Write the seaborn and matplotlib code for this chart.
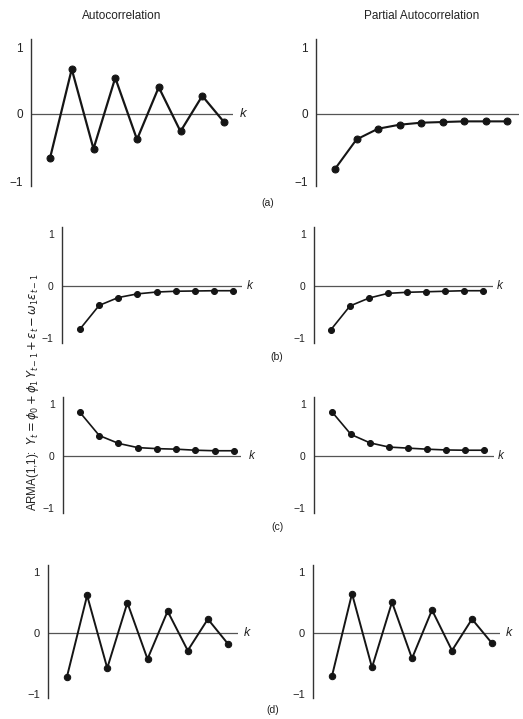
import matplotlib
matplotlib.use("Agg")
import matplotlib.pyplot as plt
import seaborn as sns
import pandas as pd

# ---------------- data ----------------
lags = [1, 2, 3, 4, 5, 6, 7, 8, 9]
acf_a = [-0.66, 0.67, -0.52, 0.54, -0.38, 0.40, -0.26, 0.27, -0.12]
pacf_a = [-0.82, -0.38, -0.22, -0.16, -0.13, -0.12, -0.11, -0.11, -0.11]
acf_b = [-0.82, -0.37, -0.22, -0.15, -0.115, -0.10, -0.095, -0.09, -0.09]
pacf_b = [-0.83, -0.38, -0.23, -0.14, -0.12, -0.11, -0.10, -0.09, -0.09]
acf_c = [0.83, 0.39, 0.24, 0.16, 0.14, 0.13, 0.11, 0.10, 0.10]
pacf_c = [0.84, 0.41, 0.25, 0.17, 0.15, 0.13, 0.115, 0.11, 0.11]
acf_d = [-0.72, 0.62, -0.58, 0.50, -0.43, 0.36, -0.29, 0.23, -0.18]
pacf_d = [-0.71, 0.65, -0.57, 0.51, -0.42, 0.38, -0.29, 0.23, -0.17]
col_titles = ["Autocorrelation", "Partial Autocorrelation"]
panel_labels = ["(a)", "(b)", "(c)", "(d)"]
ytick_vals = [-1, 0, 1]
ytick_labels = ["\u22121", "0", "1"]
side_label = (r"ARMA(1,1):  $Y_t = \phi_0 + \phi_1\, Y_{t-1} + \varepsilon_t - \omega_1 \varepsilon_{t-1}$")

sns.set_theme(style="white")
plt.rcParams["font.family"] = ["Liberation Sans", "DejaVu Sans"]
plt.rcParams["mathtext.fontset"] = "dejavusans"

W, H = 523, 719
fig = plt.figure(figsize=(W / 100, H / 100), dpi=100)
fig.patch.set_facecolor("white")

YTOP, YBOT = 1.12, -1.08
INK = "#151515"

# layout (pixels): axis_x, end_x, first_pt, last_pt, zero_y, unit, k_offset, line width, marker size, label size
panels = [
    (acf_a, dict(ax=31, end=233, f=50, l=224, z=114, u=67, k=10, lw=1.6, ms=5.0, fs=8.5)),
    (pacf_a, dict(ax=316, end=519, f=335, l=507, z=114, u=67, k=None, lw=1.5, ms=5.0, fs=8.5)),
    (acf_b, dict(ax=62, end=242, f=80, l=233, z=286, u=52.5, k=8, lw=1.2, ms=4.3, fs=7.5)),
    (pacf_b, dict(ax=314, end=493, f=331, l=483, z=286, u=52.5, k=7, lw=1.2, ms=4.3, fs=7.5)),
    (acf_c, dict(ax=63, end=241, f=80, l=234, z=456, u=52.5, k=11, lw=1.2, ms=4.3, fs=7.5)),
    (pacf_c, dict(ax=314, end=494, f=332, l=484, z=456, u=52.5, k=7, lw=1.2, ms=4.3, fs=7.5)),
    (acf_d, dict(ax=48, end=238, f=67, l=228, z=633, u=60.5, k=9, lw=1.4, ms=4.6, fs=8)),
    (pacf_d, dict(ax=313, end=500, f=332, l=492, z=633, u=60.5, k=9, lw=1.4, ms=4.6, fs=8)),
]

for vals, p in panels:
    sp = (p["l"] - p["f"]) / 8.0
    x0 = 1 - (p["f"] - p["ax"]) / sp
    x1 = 9 + (p["end"] - p["l"]) / sp
    top_px = p["z"] - YTOP * p["u"]
    bot_px = p["z"] - YBOT * p["u"]
    ax = fig.add_axes([p["ax"] / W, 1 - bot_px / H, (p["end"] - p["ax"]) / W, (bot_px - top_px) / H])
    ax.set_facecolor("none")
    df = pd.DataFrame({"lag": lags, "r": vals})
    sns.lineplot(data=df, x="lag", y="r", ax=ax, color=INK, lw=p["lw"],
                 marker="o", markersize=p["ms"], markeredgecolor=INK, markerfacecolor=INK,
                 zorder=3)
    ax.axhline(0, color="#555555", lw=0.9, zorder=1)
    ax.set_xlim(x0, x1)
    ax.set_ylim(YBOT, YTOP)
    for s in ["top", "right", "bottom"]:
        ax.spines[s].set_visible(False)
    ax.spines["left"].set_color("#333333")
    ax.spines["left"].set_linewidth(1.0)
    ax.set_xticks([])
    ax.set_yticks(ytick_vals)
    ax.set_yticklabels(ytick_labels)
    ax.set_yticks([YBOT, YTOP], minor=True)
    ax.tick_params(axis="y", which="major", length=0, pad=6, labelsize=p["fs"], labelcolor="#222222")
    ax.tick_params(axis="y", which="minor", length=5, width=1.0, direction="inout", color="#333333")
    ax.set_xlabel("")
    ax.set_ylabel("")
    if p["k"] is not None:
        ax.annotate("k", xy=(1, 0), xycoords=("axes fraction", "data"),
                    xytext=(p["k"] * 0.72, 0), textcoords="offset points",
                    ha="center", va="center", style="italic", fontsize=p["fs"] + 1,
                    color="#222222")

# column titles
fig.text(122 / W, 1 - 16 / H, col_titles[0], ha="center", va="center", fontsize=8.5, color="#222222")
fig.text(422 / W, 1 - 16 / H, col_titles[1], ha="center", va="center", fontsize=8.5, color="#222222")

# panel labels
for lab, (x, y) in zip(panel_labels, [(268, 203), (277, 357), (277, 527), (273, 710)]):
    fig.text(x / W, 1 - y / H, lab, ha="center", va="center", fontsize=7.5, color="#222222")

# rotated side label
fig.text(33 / W, 1 - 392 / H, side_label, rotation=90, ha="center", va="center",
         fontsize=8.3, color="#222222")

fig.savefig("out.png", dpi=100, facecolor="white")
